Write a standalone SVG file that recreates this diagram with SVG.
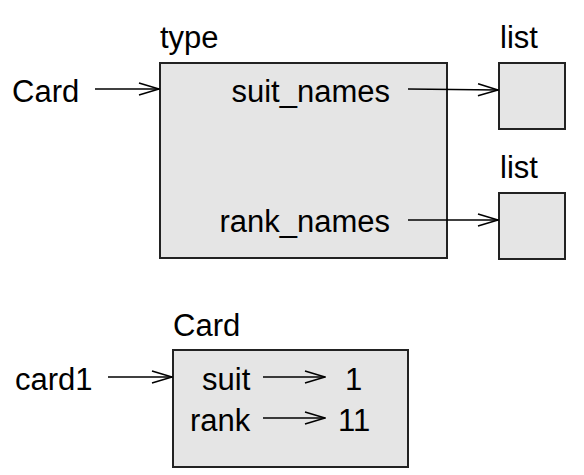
<svg xmlns="http://www.w3.org/2000/svg" width="584" height="475" viewBox="0 0 584 475">
<style>
text{font-family:"Liberation Sans",Arial,sans-serif;font-size:31px;fill:#000}
.box{fill:#e5e5e5;stroke:#222;stroke-width:2}
.ln{stroke:#000;stroke-width:1.6;fill:none}
.hd{stroke:#000;stroke-width:1.6;fill:none}
</style>
<defs>
<marker id="ah" viewBox="0 0 22 14" refX="21" refY="7" markerWidth="22" markerHeight="14" markerUnits="userSpaceOnUse" orient="auto">
<path d="M1,1 L21,7 L1,13" class="hd"/>
</marker>
</defs>
<g id="card-var"><text x="12" y="102">Card</text></g>
<g id="type-obj">
<text x="160" y="48">type</text>
<rect class="box" x="160" y="63" width="287" height="195"/>
<text x="390" y="102" text-anchor="end">suit_names</text>
<text x="390" y="232" text-anchor="end">rank_names</text>
</g>
<g id="list1"><text x="500" y="48">list</text><rect class="box" x="499" y="63" width="66" height="66"/></g>
<g id="list2"><text x="500" y="178">list</text><rect class="box" x="499" y="193" width="66" height="66"/></g>
<g id="card1-var"><text x="15" y="390">card1</text></g>
<g id="card-obj">
<text x="173" y="336">Card</text>
<rect class="box" x="173" y="350" width="235" height="117"/>
<text x="202" y="390">suit</text>
<text x="190" y="431">rank</text>
<text x="345" y="390">1</text>
<text x="338" y="431">11</text>
</g>
<g id="connectors">
<line class="ln" x1="95" y1="89" x2="159" y2="89" marker-end="url(#ah)"/>
<line class="ln" x1="408" y1="89" x2="498" y2="90" marker-end="url(#ah)"/>
<line class="ln" x1="408" y1="220" x2="498" y2="220" marker-end="url(#ah)"/>
<line class="ln" x1="108" y1="377" x2="172" y2="377" marker-end="url(#ah)"/>
<line class="ln" x1="263" y1="377" x2="325" y2="377" marker-end="url(#ah)"/>
<line class="ln" x1="263" y1="418" x2="325" y2="418" marker-end="url(#ah)"/>
</g>
</svg>
